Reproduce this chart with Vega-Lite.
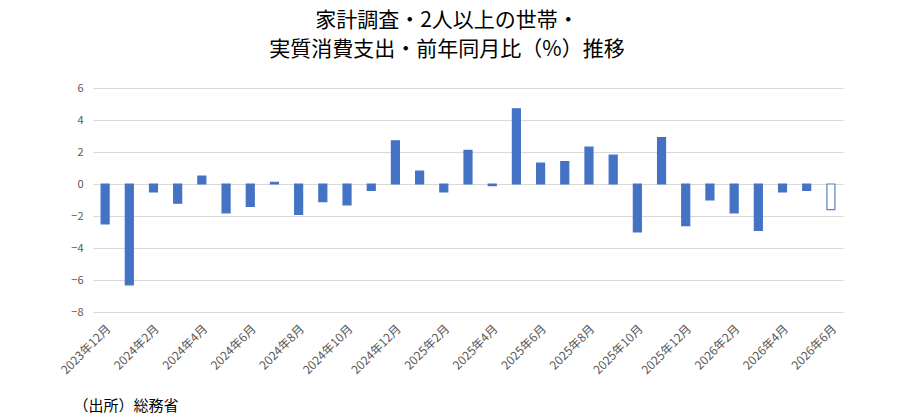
{
  "$schema": "https://vega.github.io/schema/vega-lite/v6.json",
  "autosize": {"type": "none"},
  "width": 750,
  "height": 224,
  "padding": {"left": 93, "top": 88, "right": 76, "bottom": 107},
  "background": "white",
  "config": {
    "view": {"stroke": null},
    "font": "Noto Sans CJK JP"
  },
  "title": {
    "text": ["家計調査・2人以上の世帯・", "実質消費支出・前年同月比（%）推移"],
    "fontSize": 21,
    "fontWeight": "normal",
    "color": "#000000",
    "lineHeight": 29,
    "anchor": "middle",
    "dx": -21,
    "offset": 22,
    "font": "Noto Sans CJK JP"
  },
  "data": {
    "values": [
      {"month": "2023年12月", "value": -2.5, "kind": "実績"},
      {"month": "2024年1月", "value": -6.3, "kind": "実績"},
      {"month": "2024年2月", "value": -0.5, "kind": "実績"},
      {"month": "2024年3月", "value": -1.2, "kind": "実績"},
      {"month": "2024年4月", "value": 0.5, "kind": "実績"},
      {"month": "2024年5月", "value": -1.8, "kind": "実績"},
      {"month": "2024年6月", "value": -1.4, "kind": "実績"},
      {"month": "2024年7月", "value": 0.1, "kind": "実績"},
      {"month": "2024年8月", "value": -1.9, "kind": "実績"},
      {"month": "2024年9月", "value": -1.1, "kind": "実績"},
      {"month": "2024年10月", "value": -1.3, "kind": "実績"},
      {"month": "2024年11月", "value": -0.4, "kind": "実績"},
      {"month": "2024年12月", "value": 2.7, "kind": "実績"},
      {"month": "2025年1月", "value": 0.8, "kind": "実績"},
      {"month": "2025年2月", "value": -0.5, "kind": "実績"},
      {"month": "2025年3月", "value": 2.1, "kind": "実績"},
      {"month": "2025年4月", "value": -0.1, "kind": "実績"},
      {"month": "2025年5月", "value": 4.7, "kind": "実績"},
      {"month": "2025年6月", "value": 1.3, "kind": "実績"},
      {"month": "2025年7月", "value": 1.4, "kind": "実績"},
      {"month": "2025年8月", "value": 2.3, "kind": "実績"},
      {"month": "2025年9月", "value": 1.8, "kind": "実績"},
      {"month": "2025年10月", "value": -3.0, "kind": "実績"},
      {"month": "2025年11月", "value": 2.9, "kind": "実績"},
      {"month": "2025年12月", "value": -2.6, "kind": "実績"},
      {"month": "2026年1月", "value": -1.0, "kind": "実績"},
      {"month": "2026年2月", "value": -1.8, "kind": "実績"},
      {"month": "2026年3月", "value": -2.9, "kind": "実績"},
      {"month": "2026年4月", "value": -0.5, "kind": "実績"},
      {"month": "2026年5月", "value": -0.4, "kind": "実績"},
      {"month": "2026年6月", "value": -1.6, "kind": "予測"}
    ]
  },
  "mark": {"type": "bar", "strokeWidth": 1.2},
  "encoding": {
    "x": {
      "field": "month",
      "type": "nominal",
      "sort": null,
      "scale": {"paddingInner": 0.67, "paddingOuter": 0.335},
      "axis": {
        "values": ["2023年12月", "2024年2月", "2024年4月", "2024年6月", "2024年8月", "2024年10月", "2024年12月", "2025年2月", "2025年4月", "2025年6月", "2025年8月", "2025年10月", "2025年12月", "2026年2月", "2026年4月", "2026年6月"],
        "labelAngle": -45,
        "labelFontSize": 12,
        "labelColor": "#595959",
        "labelPadding": 11,
        "domain": false,
        "ticks": false,
        "grid": false,
        "title": "（出所）総務省",
        "titleFontSize": 15,
        "titleFontWeight": "normal",
        "titleColor": "#000000",
        "titleAnchor": "start",
        "titleAlign": "left",
        "titleBaseline": "middle",
        "titleX": -20,
        "titleY": 93
      }
    },
    "y": {
      "field": "value",
      "type": "quantitative",
      "scale": {"domain": [-8, 6], "nice": false},
      "axis": {
        "values": [-8, -6, -4, -2, 0, 2, 4, 6],
        "labelFontSize": 11,
        "labelColor": "#595959",
        "labelPadding": 10,
        "domain": false,
        "ticks": false,
        "gridColor": "#d9d9d9",
        "gridWidth": 1,
        "title": null
      }
    },
    "fill": {
      "field": "kind",
      "type": "nominal",
      "scale": {"domain": ["実績", "予測"], "range": ["#4472C4", "#ffffff"]},
      "legend": null
    },
    "stroke": {
      "field": "kind",
      "type": "nominal",
      "scale": {"domain": ["実績", "予測"], "range": ["#4472C4", "#5B7FC4"]},
      "legend": null
    }
  }
}
